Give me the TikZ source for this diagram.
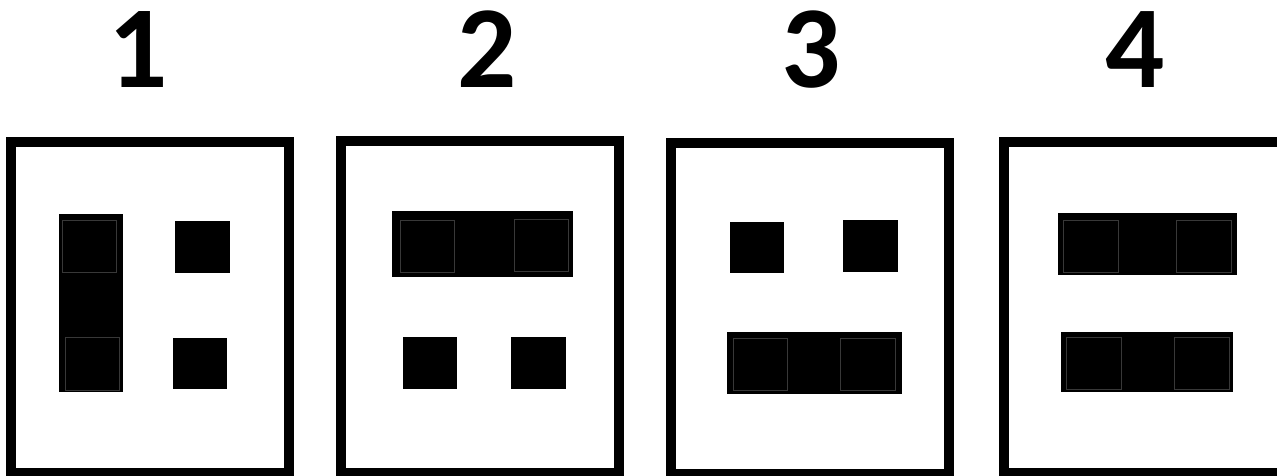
\documentclass[tikz,border=0pt]{standalone}
\usepackage{fontspec}
\setmainfont{Carlito}
\begin{document}
\begin{tikzpicture}[x=1pt,y=-1pt,
  frame/.style={draw=black,line width=10pt},
  blk/.style={fill=black},
  seam/.style={draw=black!78,line width=0.6pt},
  digit/.style={font=\bfseries\fontsize{117}{117}\selectfont,inner sep=0pt,anchor=base}]
\useasboundingbox (0,0) rectangle (1277,476);
\clip (0,0) rectangle (1277,476);
% digits
\node[digit] (n1) at (138,88) {1};
\node[digit] (n2) at (487,88) {2};
\node[digit] (n3) at (811,88) {3};
\node[digit] (n4) at (1135,88) {4};
% frames
\draw[frame] (11.3,142.5) rectangle (289,473);
\draw[frame] (341,141.5) rectangle (619,473);
\draw[frame] (671,143) rectangle (949,474);
\draw[frame] (1004,142.5) rectangle (1295,473);
% panel 1
\fill[blk] (59,214) rectangle (123,392);
\draw[seam] (62,220) rectangle (116,272);
\draw[seam] (65,337) rectangle (119,390);
\fill[blk] (175,221) rectangle (230,273);
\fill[blk] (173,338) rectangle (227,389);
% panel 2
\fill[blk] (392,211) rectangle (573,277);
\draw[seam] (400,220) rectangle (454,272);
\draw[seam] (514,219) rectangle (568,271);
\fill[blk] (403,337) rectangle (457,389);
\fill[blk] (511,337) rectangle (566,389);
% panel 3
\fill[blk] (730,222) rectangle (784,273);
\fill[blk] (843,220) rectangle (898,272);
\fill[blk] (727,332) rectangle (902,394);
\draw[seam] (733,338) rectangle (787,390);
\draw[seam] (840,338) rectangle (895,390);
% panel 4
\fill[blk] (1058,213) rectangle (1237,275);
\draw[seam] (1063,220) rectangle (1118,272);
\draw[seam] (1176,220) rectangle (1231,272);
\fill[blk] (1061,332) rectangle (1233,392);
\draw[seam] (1066,337) rectangle (1121,389);
\draw[seam] (1174,337) rectangle (1229,389);
\end{tikzpicture}
\end{document}
